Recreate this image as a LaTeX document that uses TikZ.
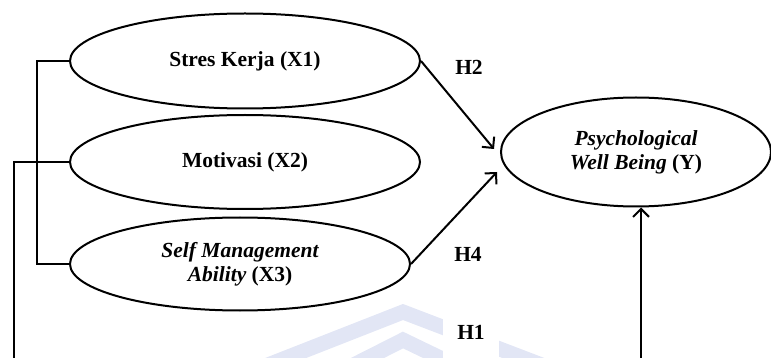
\documentclass[tikz,border=0pt]{standalone}
\usepackage{fontspec}
\setmainfont{Liberation Serif}
\usetikzlibrary{shapes.geometric,arrows.meta}
\definecolor{wmblue}{RGB}{226,230,245}
\tikzset{
  latent/.style={ellipse, draw=black, line width=2pt, inner sep=0pt, align=center,
    font=\fontsize{21.5}{24}\selectfont\bfseries},
  conn/.style={line width=2pt, black},
  arr/.style={conn, -{Straight Barb[length=8pt,width=16pt,line width=2pt]}},
  hlab/.style={font=\fontsize{21.5}{24}\selectfont\bfseries},
  wm/.style={wmblue, line width=15pt}
}
\begin{document}
\begin{tikzpicture}[x=1pt,y=-1pt]
\useasboundingbox (0,0) rectangle (771,358);
% faint watermark fragment
\draw[wm] (250,372) -- (403,312) -- (560,372);
\draw[wm] (320,382) -- (403,340) -- (490,382);
% latent variables
\node[latent, minimum width=350pt, minimum height=95pt] (X1) at (245,61) {Stres Kerja (X1)};
\node[latent, minimum width=350pt, minimum height=94pt] (X2) at (245,162) {Motivasi (X2)};
\node[latent, minimum width=340pt, minimum height=93pt] (X3) at (240,264) {\itshape Self Management\\\itshape Ability \upshape(X3)};
\node[latent, minimum width=270pt, minimum height=109pt] (Y) at (636,152) {\itshape Psychological\\\itshape Well Being \upshape(Y)};
% labels
\node[hlab] (H2) at (469,67) {H2};
\node[hlab] (H4) at (468,254) {H4};
\node[hlab, fill=white, minimum width=56pt, minimum height=60pt] (H1) at (471,332) {H1};
% coordinates
\coordinate (a2) at (494,149);
\coordinate (a4) at (497,172);
\coordinate (b1) at (14,362);
\coordinate (b2) at (641,362);
\coordinate (k1) at (37,61);
% connectors
\draw[conn] (X1.west) -- (k1) |- (X3.west);
\draw[conn] (X2.west) -| (b1);
\draw[arr] (X1.east) -- (a2);
\draw[arr] (X3.east) -- (a4);
\draw[arr] (b2) -- (b2 |- Y.south);
\end{tikzpicture}
\end{document}
